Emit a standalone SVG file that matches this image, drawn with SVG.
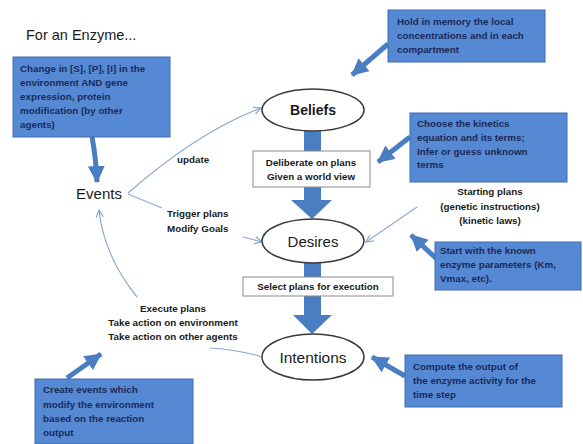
<svg xmlns="http://www.w3.org/2000/svg" width="583" height="444" viewBox="0 0 583 444">
<style>
.bx{fill:#5689d3;stroke:#3f6cae;stroke-width:1}
.bt{font-family:"Liberation Sans",Arial,sans-serif;font-size:9.8px;font-weight:bold;fill:#1b2a58}
.lb{font-family:"Liberation Sans",Arial,sans-serif;font-size:9.8px;font-weight:bold;fill:#1a1a1a}
.el{fill:#fff;stroke:#3a3a3a;stroke-width:1.5}
.et{font-family:"Liberation Sans",Arial,sans-serif;font-size:15px;fill:#1a1a1a;text-anchor:middle}
.wb{fill:#fff;stroke:#8a8a8a;stroke-width:1}
.bar{fill:#4a7ec2}
.thin{fill:none;stroke:#8ea9cf;stroke-width:1.2}
.thick{fill:none;stroke:#4a7ec2;stroke-width:5}
</style>
<defs>
<marker id="th" viewBox="0 0 10 10" refX="9" refY="5" markerWidth="9" markerHeight="9" markerUnits="userSpaceOnUse" orient="auto">
<path d="M1,1 L9,5 L1,9" fill="none" stroke="#8ea9cf" stroke-width="1.4"/>
</marker>
<marker id="bh" viewBox="0 0 16 16" refX="15" refY="8" markerWidth="17" markerHeight="17" markerUnits="userSpaceOnUse" orient="auto">
<path d="M0,0 L16,8 L0,16 z" fill="#4a7ec2"/>
</marker>
</defs>
<rect width="583" height="444" fill="#fff"/>

<text x="26" y="40" font-family="Liberation Sans,Arial,sans-serif" font-size="14.5" fill="#1a1a1a">For an Enzyme...</text>

<g id="connectors">
<path class="thin" d="M128,193 Q198,132 261,108" marker-end="url(#th)"/>
<path class="thin" d="M128,194 L162,208"/>
<path class="thin" d="M243,237 L262,242" marker-end="url(#th)"/>
<path class="thin" d="M417,207 L366,242" marker-end="url(#th)"/>
<path class="thin" d="M137,297 Q104,256 99,210" marker-end="url(#th)"/>
<path class="thin" d="M262,357 Q240,350 210,348"/>
<path class="thick" d="M92,137 Q96,158 97,182" marker-end="url(#bh)"/>
<path class="thick" d="M388,44 L352,75" marker-end="url(#bh)"/>
<path class="thick" d="M410,137 L378,162" marker-end="url(#bh)"/>
<path class="thick" d="M440,262 L411,235" marker-end="url(#bh)"/>
<path class="thick" d="M405,376 L372,357" marker-end="url(#bh)"/>
<path class="thick" d="M67,378 L101,354" marker-end="url(#bh)"/>
<rect class="bar" x="304" y="130" width="17" height="22"/>
<rect class="bar" x="304" y="187" width="17" height="14"/>
<polygon class="bar" points="291,200 332,200 312,219"/>
<rect class="bar" x="304" y="263" width="17" height="15"/>
<rect class="bar" x="304" y="296" width="17" height="20"/>
<polygon class="bar" points="293,315 332,315 312,334"/>
</g>

<g id="labels">
<text class="lb" x="177" y="163">update</text>
<text class="lb" x="167" y="217">Trigger plans</text>
<text class="lb" x="167" y="232">Modify Goals</text>
<text class="lb" x="490" y="195" text-anchor="middle">Starting plans</text>
<text class="lb" x="490" y="210" text-anchor="middle">(genetic instructions)</text>
<text class="lb" x="490" y="224" text-anchor="middle">(kinetic laws)</text>
<text class="lb" x="173" y="312" text-anchor="middle">Execute plans</text>
<text class="lb" x="173" y="326" text-anchor="middle">Take action on environment</text>
<text class="lb" x="173" y="340" text-anchor="middle">Take action on other agents</text>
</g>

<g id="events">
<text x="99" y="199" class="et" style="font-size:15px">Events</text>
</g>

<g id="beliefs">
<ellipse class="el" cx="313" cy="110" rx="51" ry="21"/>
<text class="et" x="313" y="115" font-weight="bold" style="font-size:14px;font-weight:bold">Beliefs</text>
</g>

<g id="deliberate">
<rect class="wb" x="253" y="151" width="117" height="36"/>
<text class="lb" x="311" y="166" text-anchor="middle">Deliberate on plans</text>
<text class="lb" x="311" y="180" text-anchor="middle">Given a world view</text>
</g>

<g id="desires">
<ellipse class="el" cx="313" cy="241" rx="51" ry="22"/>
<text class="et" x="313" y="247">Desires</text>
</g>

<g id="select">
<rect class="wb" x="243" y="277" width="150" height="19"/>
<text class="lb" x="318" y="290" text-anchor="middle">Select plans for execution</text>
</g>

<g id="intentions">
<ellipse class="el" cx="313" cy="357" rx="51" ry="23"/>
<text class="et" x="313" y="363" style="font-size:15.5px">Intentions</text>
</g>

<g id="note-change">
<rect class="bx" x="13" y="57" width="157" height="80"/>
<text class="bt" x="20" y="72">Change in [S], [P], [I] in the</text>
<text class="bt" x="20" y="86">environment AND gene</text>
<text class="bt" x="20" y="100">expression, protein</text>
<text class="bt" x="20" y="114">modification (by other</text>
<text class="bt" x="20" y="128">agents)</text>
</g>

<g id="note-hold">
<rect class="bx" x="388" y="10" width="157" height="52"/>
<text class="bt" x="397" y="25">Hold in memory the local</text>
<text class="bt" x="397" y="39">concentrations and in each</text>
<text class="bt" x="397" y="53">compartment</text>
</g>

<g id="note-choose">
<rect class="bx" x="410" y="113" width="157" height="69"/>
<text class="bt" x="417" y="127">Choose the kinetics</text>
<text class="bt" x="417" y="141">equation  and its terms;</text>
<text class="bt" x="417" y="155">Infer or guess unknown</text>
<text class="bt" x="417" y="168">terms</text>
</g>

<g id="note-start">
<rect class="bx" x="435" y="242" width="146" height="48"/>
<text class="bt" x="440" y="254">Start with the known</text>
<text class="bt" x="440" y="268">enzyme parameters (Km,</text>
<text class="bt" x="440" y="282">Vmax, etc).</text>
</g>

<g id="note-compute">
<rect class="bx" x="405" y="355" width="157" height="52"/>
<text class="bt" x="413" y="370">Compute the output of</text>
<text class="bt" x="413" y="384">the enzyme activity for the</text>
<text class="bt" x="413" y="398">time step</text>
</g>

<g id="note-create">
<rect class="bx" x="35" y="379" width="158" height="65"/>
<text class="bt" x="43" y="393">Create events which</text>
<text class="bt" x="43" y="408">modify the environment</text>
<text class="bt" x="43" y="422">based on the reaction</text>
<text class="bt" x="43" y="436">output</text>
</g>
</svg>
